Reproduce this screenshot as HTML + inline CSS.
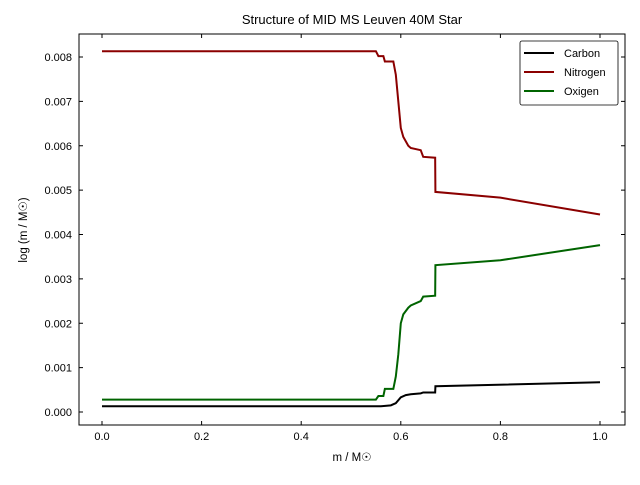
<!DOCTYPE html>
<html><head><meta charset="utf-8"><style>
body{margin:0;background:#fff}
svg text{font-family:"Liberation Sans",sans-serif;fill:#000}
</style></head><body>
<svg id="c" width="640" height="480">
<rect width="640" height="480" fill="#fff"/>
<text x="352" y="24" font-size="13" text-anchor="middle">Structure of MID MS Leuven 40M Star</text>
<text x="352" y="461" font-size="11.5" text-anchor="middle">m / M☉</text>
<text transform="translate(27,230) rotate(-90)" font-size="11.5" text-anchor="middle">log (m / M☉)</text>
<g id="ticks"></g>
<g id="lines"></g>
<rect x="79" y="34" width="546" height="391" fill="none" stroke="#000" stroke-width="1"/>
<g>
<rect x="520" y="41" width="98" height="64" rx="2" fill="#fff" stroke="#000" stroke-width="0.8"/>
<g><line x1="524" y1="53" x2="554" y2="53" stroke="#000" stroke-width="2"/><text x="564" y="57" font-size="11">Carbon</text></g>
<g><line x1="524" y1="72" x2="554" y2="72" stroke="#8b0000" stroke-width="2"/><text x="564" y="76" font-size="11">Nitrogen</text></g>
<g><line x1="524" y1="91" x2="554" y2="91" stroke="#006400" stroke-width="2"/><text x="564" y="95" font-size="11">Oxigen</text></g>
</g>
</svg>
<script>
const xTicks=[0,0.2,0.4,0.6,0.8,1.0];
const yTicks=[0,0.001,0.002,0.003,0.004,0.005,0.006,0.007,0.008];
const nX=[0,0.55,0.555,0.565,0.568,0.585,0.59,0.595,0.6,0.605,0.615,0.62,0.64,0.645,0.669,0.6695,0.8,1.0];
const nY=[0.00813,0.00813,0.00802,0.00802,0.0079,0.0079,0.0076,0.007,0.0064,0.0062,0.006,0.00595,0.0059,0.00575,0.00573,0.00496,0.00483,0.00445];
const oX=[0,0.55,0.555,0.565,0.568,0.585,0.59,0.595,0.6,0.605,0.615,0.62,0.64,0.645,0.669,0.6695,0.8,1.0];
const oY=[0.00028,0.00028,0.00036,0.00036,0.00052,0.00052,0.0008,0.0013,0.002,0.0022,0.00235,0.0024,0.0025,0.0026,0.00262,0.00331,0.00342,0.00376];
const cX=[0,0.56,0.58,0.59,0.6,0.61,0.62,0.64,0.645,0.669,0.6695,1.0];
const cY=[0.00013,0.00013,0.00015,0.0002,0.00033,0.00038,0.0004,0.00042,0.00044,0.00044,0.00058,0.00067];
const NS='http://www.w3.org/2000/svg';
function sx(v){return 102+v*498;}
function sy(v){return 412-v*44375;}
const tg=document.getElementById('ticks');
xTicks.forEach(v=>{
 const l=document.createElementNS(NS,'line');
 
 
 l.setAttribute('x1',sx(v));l.setAttribute('x2',sx(v));l.setAttribute('y1',425);l.setAttribute('y2',421);l.setAttribute('stroke','#000');tg.appendChild(l);
 const l2=l.cloneNode();l2.setAttribute('y1',34);l2.setAttribute('y2',38);tg.appendChild(l2);
 const t=document.createElementNS(NS,'text');
 
 
 t.setAttribute('x',sx(v));t.setAttribute('y',440);t.setAttribute('font-size','11');t.setAttribute('text-anchor','middle');t.textContent=v.toFixed(1);tg.appendChild(t);
});
yTicks.forEach(v=>{
 const l=document.createElementNS(NS,'line');
 
 
 l.setAttribute('x1',79);l.setAttribute('x2',83);l.setAttribute('y1',sy(v));l.setAttribute('y2',sy(v));l.setAttribute('stroke','#000');tg.appendChild(l);
 const l2=l.cloneNode();l2.setAttribute('x1',625);l2.setAttribute('x2',621);tg.appendChild(l2);
 const t=document.createElementNS(NS,'text');
 
 
 t.setAttribute('x',72);t.setAttribute('y',sy(v)+4);t.setAttribute('font-size','11');t.setAttribute('text-anchor','end');t.textContent=v.toFixed(3);tg.appendChild(t);
});
const lg=document.getElementById('lines');
function draw(xs,ys,col,name){
 const p=document.createElementNS(NS,'polyline');
 
 
 p.setAttribute('points',xs.map((x,i)=>sx(x)+','+sy(ys[i])).join(' '));
 p.setAttribute('fill','none');p.setAttribute('stroke',col);p.setAttribute('stroke-width','2');
 lg.appendChild(p);
}
draw(cX,cY,'#000','carbon-line');
draw(nX,nY,'#8b0000','nitrogen-line');
draw(oX,oY,'#006400','oxygen-line');
</script>
</body></html>
